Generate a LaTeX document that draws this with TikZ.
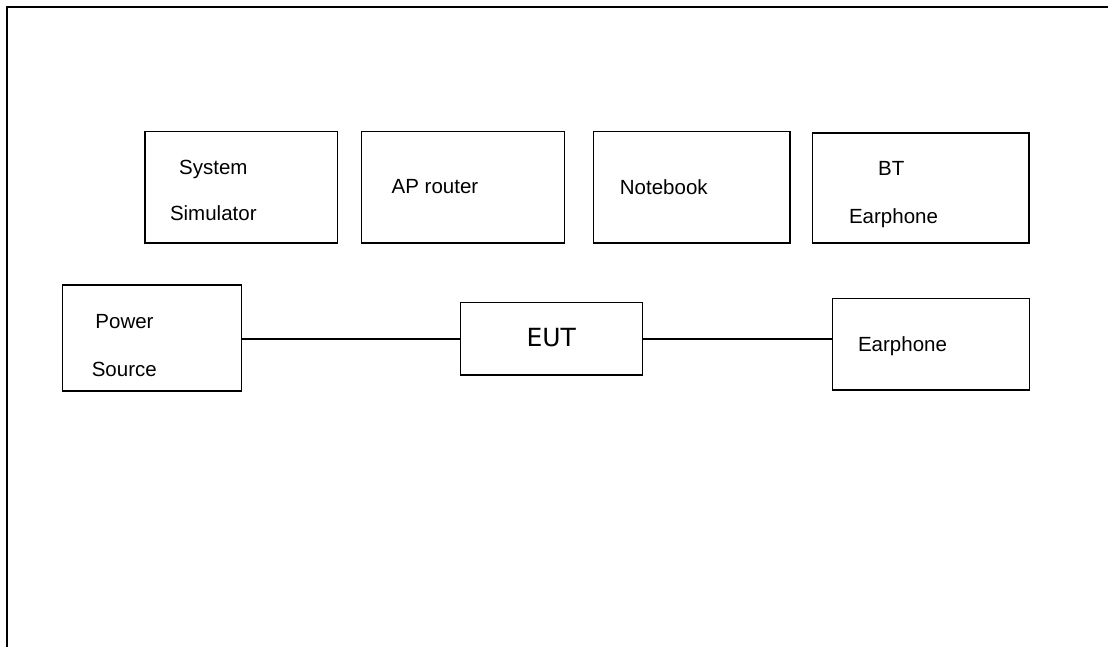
\documentclass[tikz,border=0pt]{standalone}
\usepackage{fontspec}
\setmainfont{Liberation Sans}
\newfontfamily\eutfont{DejaVu Sans}
\begin{document}
\begin{tikzpicture}[x=1pt,y=-1pt,
  box/.style={draw,line width=1.2pt,rectangle,inner sep=0pt,outer sep=0pt},
  lbl/.style={anchor=base,inner sep=0pt,font=\fontsize{20.5}{24}\selectfont},
  wire/.style={line width=1.5pt}]
\useasboundingbox (0,0) rectangle (1108,647);
\draw[line width=2.5pt] (7,647) -- (7,7) -- (1108,7);
% top row boxes
\node[box,minimum width=192.7pt,minimum height=111.3pt] (sys) at (241.4,187.3) {};
\node[box,minimum width=202.6pt,minimum height=111.5pt] (ap) at (463,187.3) {};
\node[box,minimum width=196.7pt,minimum height=111.3pt] (nb) at (691.7,187.3) {};
\node[box,minimum width=216.7pt,minimum height=110pt] (bt) at (920.7,188) {};
% bottom row boxes
\node[box,minimum width=179.4pt,minimum height=106pt] (ps) at (152,338) {};
\node[box,minimum width=182pt,minimum height=72.3pt] (eut) at (551.7,338.8) {};
\node[box,minimum width=196.6pt,minimum height=91.7pt] (ear) at (931,344.2) {};
% labels
\node[lbl] (t1) at (213.3,175) {System};
\node[lbl] (t2) at (213.3,220.5) {Simulator};
\node[lbl] (t3) at (435,194) {AP router};
\node[lbl] (t4) at (663.8,195) {Notebook};
\node[lbl] (t5) at (891.3,176) {BT};
\node[lbl] (t6) at (893.5,223.3) {Earphone};
\node[lbl] (t7) at (124.5,328.3) {Power};
\node[lbl] (t8) at (124.3,376) {Source};
\node[anchor=base,inner sep=0pt,font=\eutfont\fontsize{25}{30}\selectfont] (t9) at (551.3,346.7) {EUT};
\node[lbl] (t10) at (902.5,351.7) {Earphone};
% connectors
\draw[wire] (ps.east |- eut.west) -- (eut.west);
\draw[wire] (eut.east) -- (eut.east -| ear.west);
\end{tikzpicture}
\end{document}
